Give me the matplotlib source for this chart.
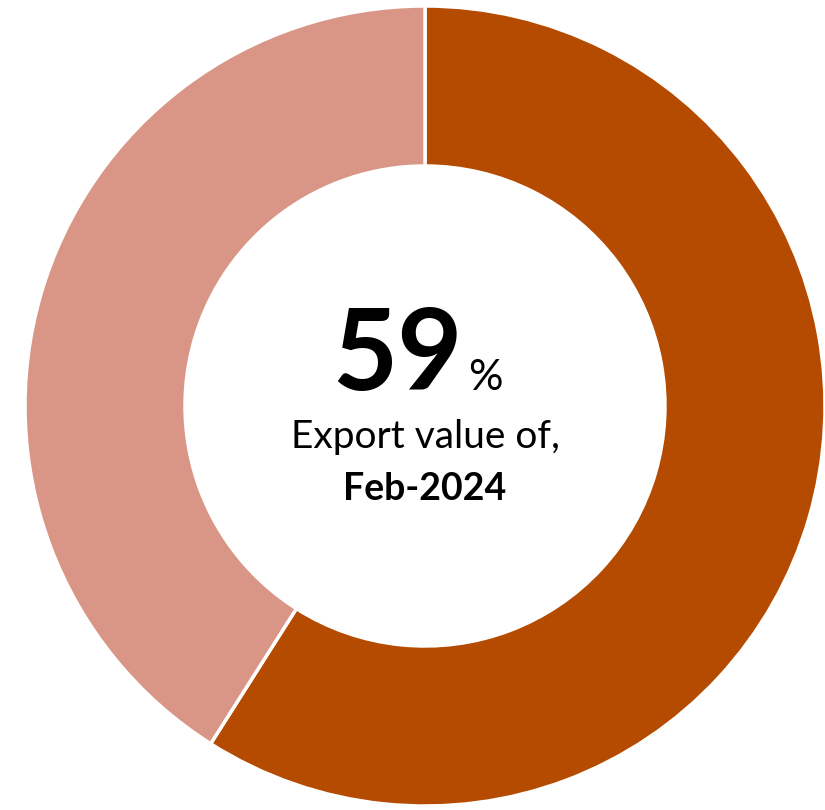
import matplotlib
matplotlib.use("Agg")
import matplotlib.pyplot as plt

labels = ["Feb-2024", "Other"]
values = [59, 41]
colors = ["#B54B00", "#D99585"]
main_pct = "59"
subtitle = "Export value of,"
period = "Feb-2024"

fig = plt.figure(figsize=(8.25, 8.1), dpi=100)
ax = fig.add_axes([0, 0, 1, 1])
ax.pie(values, colors=colors, startangle=90, counterclock=False, radius=400,
       wedgeprops=dict(width=160, edgecolor="white", linewidth=2.5))
ax.set_xlim(-425, 400)
ax.set_ylim(-404, 406)
ax.set_aspect("equal")
ax.axis("off")

fam = ["Lato", "DejaVu Sans"]
ax.text(38, 16, main_pct, ha="right", va="baseline", fontsize=81, fontweight="bold",
        family=fam, color="black")
ax.text(43, 16, "%", ha="left", va="baseline", fontsize=31, family=fam, color="black")
ax.text(0, -42, subtitle, ha="center", va="baseline", fontsize=28, family=fam, color="black")
ax.text(0, -94, period, ha="center", va="baseline", fontsize=27, fontweight="bold",
        family=fam, color="black")

fig.savefig("out.png", dpi=100)
